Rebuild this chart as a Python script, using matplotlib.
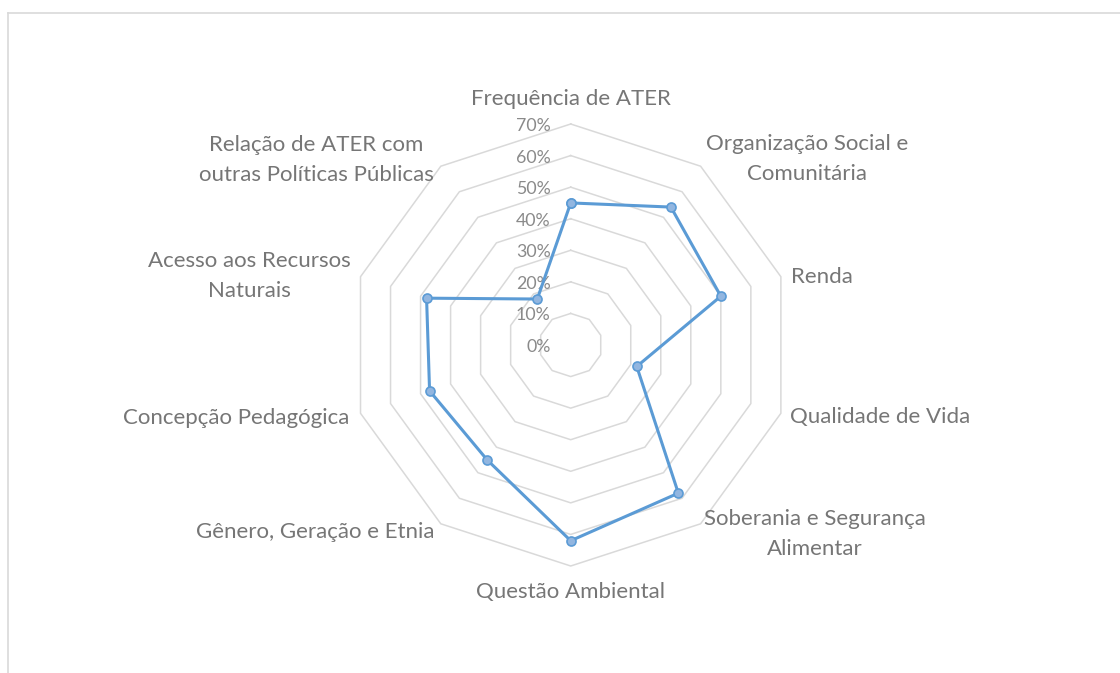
import numpy as np
import matplotlib
matplotlib.use('Agg')
import matplotlib.pyplot as plt
from matplotlib.lines import Line2D

# categories clockwise from the top
categories = ['Frequência de ATER', 'Organização Social e\nComunitária', 'Renda',
              'Qualidade de Vida', 'Soberania e Segurança\nAlimentar', 'Questão Ambiental',
              'Gênero, Geração e Etnia', 'Concepção Pedagógica',
              'Acesso aos Recursos\nNaturais', 'Relação de ATER com\noutras Políticas Públicas']
values = [0.45, 0.54, 0.50, 0.22, 0.58, 0.62, 0.45, 0.47, 0.48, 0.18]
ticks = [0.0, 0.1, 0.2, 0.3, 0.4, 0.5, 0.6, 0.7]
tick_labels = ['0%', '10%', '20%', '30%', '40%', '50%', '60%', '70%']

plt.rcParams['font.family'] = ['Lato', 'DejaVu Sans']
TXT = '#767676'
GRID = '#D9D9D9'
BLUE = '#5B9BD5'

W, H = 1120, 673
fig = plt.figure(figsize=(W / 100, H / 100), dpi=100)
cx, cy, R = 570.7, 345, 221
ax = fig.add_axes([(cx - R) / W, (H - cy - R) / H, 2 * R / W, 2 * R / H], projection='polar')
ax.set_theta_zero_location('N')
ax.set_theta_direction(-1)
ax.set_ylim(0, 0.7)
ax.set_xticks([])
ax.set_yticks([])
ax.grid(False)
ax.spines['polar'].set_visible(False)
ax.patch.set_visible(False)

n = len(categories)
theta = np.arange(n) * 2 * np.pi / n
theta_c = np.append(theta, theta[0])

# decagon rings
for r in ticks[1:]:
    ax.plot(theta_c, [r] * (n + 1), color=GRID, lw=1.1, clip_on=False, zorder=1)

# radial tick labels
for r, lab in zip(ticks, tick_labels):
    ax.annotate(lab, xy=(0, r), xytext=(-20, -2), textcoords='offset pixels',
                ha='right', va='center', fontsize=12.8, color='#8A8A8A')

# data
vals_c = values + [values[0]]
ax.plot(theta_c, vals_c, color=BLUE, lw=2.2, clip_on=False, zorder=3,
        marker='o', ms=6.5, mfc='#92B6E0', mec=BLUE, mew=1.2)

# category labels: (dx, dy, ha) in pixels from the 70% vertex
label_pos = [(0, 25, 'center'), (5, 7, 'left'), (10, 0, 'left'), (9, -4, 'left'),
             (3, -10, 'left'), (0, -26, 'center'), (-6, -8, 'right'), (-11, -5, 'right'),
             (-10, 1, 'right'), (-7, 6, 'right')]
for t, lab, (dx, dy, ha) in zip(theta, categories, label_pos):
    ax.annotate(lab, xy=(t, 0.7), xytext=(dx, dy), textcoords='offset pixels',
                ha=ha, va='center', multialignment='center', fontsize=16,
                color=TXT, linespacing=1.6, annotation_clip=False)

# partial chart border (top and left)
fig.add_artist(Line2D([8 / W, 8 / W], [0, 1 - 13 / H], color=GRID, lw=1.2))
fig.add_artist(Line2D([8 / W, 1], [1 - 13 / H, 1 - 13 / H], color=GRID, lw=1.2))

fig.savefig('out.png', dpi=100)
